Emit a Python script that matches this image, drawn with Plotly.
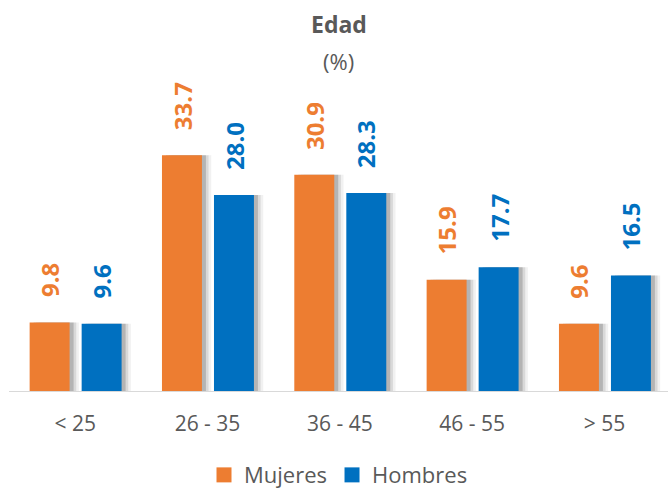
import plotly.graph_objects as go

categories = ["< 25", "26 - 35", "36 - 45", "46 - 55", "> 55"]
mujeres = [9.8, 33.7, 30.9, 15.9, 9.6]
hombres = [9.6, 28.0, 28.3, 17.7, 16.5]

ORANGE = "#ED7D31"
BLUE = "#0070C0"
GRAY = "#595959"
FONT = "Open Sans"

W = 0.302           # bar width in category units
OFF_M = -0.344      # left edge offsets
OFF_H = 0.049

fig = go.Figure()

# soft shadows
for vals, off in [(mujeres, OFF_M), (hombres, OFF_H)]:
    for dx, op in [(0.07, 0.08), (0.05, 0.15), (0.03, 0.27)]:
        fig.add_trace(go.Bar(x=categories, y=vals, width=W, offset=off + dx,
                             marker=dict(color="rgba(80,80,80,%.2f)" % op, line=dict(width=0)),
                             showlegend=False, hoverinfo="skip"))

fig.add_trace(go.Bar(name="Mujeres", x=categories, y=mujeres, width=W, offset=OFF_M,
                     marker=dict(color=ORANGE, line=dict(width=0)), showlegend=False))
fig.add_trace(go.Bar(name="Hombres", x=categories, y=hombres, width=W, offset=OFF_H,
                     marker=dict(color=BLUE, line=dict(width=0)), showlegend=False))

# legend entries with larger square swatches
fig.add_trace(go.Scatter(x=[None], y=[None], mode="markers", name="Mujeres",
                         marker=dict(symbol="square", size=15, color=ORANGE)))
fig.add_trace(go.Scatter(x=[None], y=[None], mode="markers", name="Hombres",
                         marker=dict(symbol="square", size=15, color=BLUE)))

annotations = []
for c, m, h in zip(categories, mujeres, hombres):
    annotations.append(dict(x=c, y=m, xref="x", yref="y", text="<b>%.1f</b>" % m,
                            textangle=-90, showarrow=False, xanchor="center", yanchor="bottom",
                            xshift=-25.5, yshift=23, font=dict(family=FONT, size=24, color=ORANGE)))
    annotations.append(dict(x=c, y=h, xref="x", yref="y", text="<b>%.1f</b>" % h,
                            textangle=-90, showarrow=False, xanchor="center", yanchor="bottom",
                            xshift=26.5, yshift=23, font=dict(family=FONT, size=24, color=BLUE)))

annotations.append(dict(x=0.5, y=1.109, xref="paper", yref="paper", text="<b>Edad</b>",
                        showarrow=False, xanchor="center", yanchor="middle",
                        font=dict(family=FONT, size=23, color=GRAY)))
annotations.append(dict(x=0.5, y=0.997, xref="paper", yref="paper", text="(%)",
                        showarrow=False, xanchor="center", yanchor="middle",
                        font=dict(family=FONT, size=22, color=GRAY)))

fig.update_layout(
    width=668, height=488,
    margin=dict(l=9, r=0, t=60, b=97, autoexpand=False),
    barmode="overlay",
    plot_bgcolor="white", paper_bgcolor="white",
    font=dict(family=FONT, color=GRAY),
    annotations=annotations,
    showlegend=True,
    legend=dict(orientation="h", x=0.5, xanchor="center", y=-0.254, yanchor="middle",
                font=dict(family=FONT, size=22, color=GRAY), itemwidth=30,
                traceorder="normal", itemsizing="trace"),
    xaxis=dict(showgrid=False, showline=True, linecolor="#D9D9D9", linewidth=1,
               ticks="", tickfont=dict(family=FONT, size=21, color=GRAY),
               ticklabelstandoff=14, fixedrange=True, range=[-0.5, 4.48]),
    yaxis=dict(range=[0, 47.3], visible=False, showgrid=False, zeroline=False),
)

fig.write_html("out.html", config={"displayModeBar": False},
               post_script="document.body.style.margin='0';")
